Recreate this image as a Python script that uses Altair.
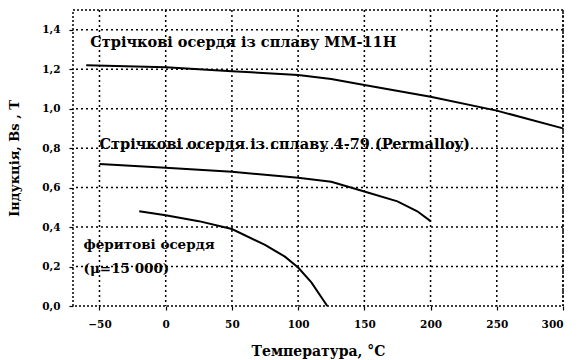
import altair as alt
import pandas as pd

# MM-11H strip cores
t_mm = [-60, 0, 50, 100, 125, 150, 200, 250, 300]
b_mm = [1.22, 1.21, 1.19, 1.17, 1.15, 1.12, 1.06, 0.99, 0.90]
# 4-79 Permalloy strip cores
t_py = [-50, 0, 50, 100, 125, 150, 175, 190, 200]
b_py = [0.72, 0.70, 0.68, 0.65, 0.63, 0.58, 0.53, 0.48, 0.43]
# ferrite cores
t_fe = [-20, 0, 25, 50, 75, 90, 100, 110, 122]
b_fe = [0.48, 0.46, 0.43, 0.39, 0.31, 0.25, 0.195, 0.12, 0.0]

x_ticks = [-50, 0, 50, 100, 150, 200, 250, 300]
y_ticks = [0.0, 0.2, 0.4, 0.6, 0.8, 1.0, 1.2, 1.4]

labels_text = ["Стрічкові осердя із сплаву ММ-11Н",
               "Стрічкові осердя із сплаву 4-79 (Permalloy)",
               "феритові осердя",
               "(μ=15 000)"]
labels_x = [-57, -50, -62, -62]
labels_y = [1.335, 0.817, 0.31, 0.19]
labels_size = [14.5, 14.5, 13.5, 13.5]

rows = []
for name, ts, bs in [("mm", t_mm, b_mm), ("py", t_py, b_py), ("fe", t_fe, b_fe)]:
    for i, (t, b) in enumerate(zip(ts, bs)):
        rows.append({"series": name, "T": t, "B": b, "order": i})
df = pd.DataFrame(rows)
lab = pd.DataFrame({"text": labels_text, "x": labels_x, "y": labels_y, "s": labels_size})
gx = pd.DataFrame({"v": x_ticks})
gy = pd.DataFrame({"v": y_ticks[1:]})

FONT = "DejaVu Serif"

xscale = alt.Scale(domain=[-70, 300], nice=False, zero=False)
yscale = alt.Scale(domain=[0, 1.5], nice=False)

grid_x = alt.Chart(gx).mark_rule(color="#000000", strokeWidth=1.5, strokeDash=[2, 3],
                                 strokeOpacity=1, opacity=1).encode(
    x=alt.X("v:Q", scale=xscale))
grid_y = alt.Chart(gy).mark_rule(color="#000000", strokeWidth=1.5, strokeDash=[2, 3],
                                 strokeOpacity=1, opacity=1).encode(
    y=alt.Y("v:Q", scale=yscale))

lines = alt.Chart(df).mark_line(color="black", strokeWidth=2).encode(
    x=alt.X("T:Q", scale=xscale,
            axis=alt.Axis(values=x_ticks, title="Температура, °C")),
    y=alt.Y("B:Q", scale=yscale,
            axis=alt.Axis(values=y_ticks, title="Індукція, Bs , Т",
                          labelExpr="replace(format(datum.value, '.1f'), '.', ',')")),
    detail="series:N",
    order="order:Q",
)

texts = alt.Chart(lab).mark_text(align="left", baseline="middle", font=FONT,
                                 fontWeight="bold", color="black").encode(
    x=alt.X("x:Q", scale=xscale),
    y=alt.Y("y:Q", scale=yscale),
    text="text:N",
    size=alt.Size("s:Q", scale=None, legend=None),
)

chart = alt.layer(grid_x, grid_y, lines, texts).properties(
    width=490, height=296,
    background="white",
    autosize=alt.AutoSizeParams(type="none"),
    padding={"left": 73, "top": 10, "right": 15, "bottom": 54},
).configure_view(
    stroke="black", strokeDash=[2, 2], strokeWidth=1.5
).configure_axis(
    grid=False,
    labelFont=FONT, labelFontWeight="bold", labelFontSize=10.5, labelColor="black",
    titleFont=FONT, titleFontWeight="bold", titleFontSize=13, titleColor="black",
    domain=False, tickColor="black", tickSize=4, tickWidth=1.2,
).configure_axisX(labelPadding=9, titlePadding=15, titleFontSize=14).configure_axisY(
    labelPadding=9, titlePadding=20)

chart.save("out.html", embed_options={"renderer": "svg", "actions": False})
